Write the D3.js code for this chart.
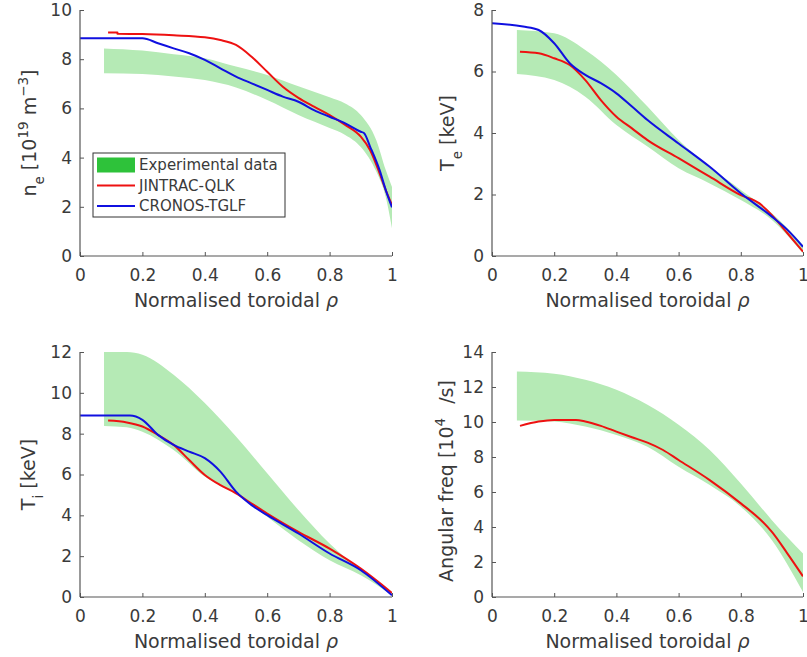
<!DOCTYPE html>
<html>
<head>
<meta charset="utf-8">
<script src="https://cdn.jsdelivr.net/npm/d3@7/dist/d3.min.js"></script>
<style>
  html, body { margin: 0; padding: 0; background: #fff; }
  svg { display: block; font-family: "DejaVu Sans", sans-serif; }
</style>
</head>
<body>
<svg id="chart" width="807" height="657"></svg>
<script>
// ---------- Data ----------
// Electron density n_e [1e19 m^-3]
const neBandRho   = [0.077, 0.2, 0.3, 0.4, 0.5, 0.6, 0.7, 0.8, 0.85, 0.9, 0.95, 0.98, 1.0];
const neBandUpper = [8.44, 8.35, 8.2, 8.04, 7.7, 7.36, 6.9, 6.45, 6.2, 5.73, 4.7, 3.5, 2.8];
const neBandLower = [7.43, 7.4, 7.3, 7.15, 6.85, 6.34, 5.73, 5.2, 4.92, 4.43, 3.42, 2.4, 1.13];
const neJintracRho = [0.09, 0.12, 0.12, 0.2, 0.3, 0.4, 0.45, 0.5, 0.55, 0.6, 0.65, 0.7, 0.75, 0.8, 0.85, 0.9, 0.93, 0.96, 0.98, 1.0];
const neJintracVal = [9.09, 9.09, 9.03, 9.02, 8.97, 8.89, 8.78, 8.58, 8.1, 7.49, 6.88, 6.43, 6.07, 5.73, 5.33, 4.85, 4.3, 3.37, 2.68, 2.07];
const neCronosRho = [0.0, 0.2, 0.25, 0.3, 0.35, 0.4, 0.45, 0.5, 0.55, 0.6, 0.65, 0.7, 0.75, 0.8, 0.85, 0.9, 0.91, 0.93, 0.96, 0.98, 1.0];
const neCronosVal = [8.85, 8.85, 8.65, 8.44, 8.24, 7.97, 7.63, 7.29, 7.02, 6.75, 6.48, 6.27, 5.93, 5.66, 5.39, 5.05, 5.0, 4.44, 3.5, 2.68, 1.98];

// Electron temperature T_e [keV]
const teBandRho   = [0.08, 0.2, 0.3, 0.4, 0.5, 0.6, 0.7, 0.8, 0.9, 1.0];
const teBandUpper = [7.35, 7.24, 6.7, 5.89, 4.86, 3.77, 2.9, 2.15, 1.39, 0.36];
const teBandLower = [5.92, 5.72, 5.18, 4.26, 3.56, 2.85, 2.36, 1.82, 1.17, 0.09];
const teJintracRho = [0.09, 0.15, 0.2, 0.25, 0.3, 0.35, 0.4, 0.45, 0.5, 0.6, 0.7, 0.8, 0.86, 0.9, 0.95, 1.0];
const teJintracVal = [6.64, 6.59, 6.43, 6.21, 5.72, 5.07, 4.53, 4.15, 3.77, 3.18, 2.58, 1.98, 1.71, 1.33, 0.74, 0.14];
const teCronosRho = [0.0, 0.1, 0.15, 0.2, 0.25, 0.3, 0.35, 0.4, 0.45, 0.5, 0.6, 0.7, 0.8, 0.9, 0.95, 1.0];
const teCronosVal = [7.57, 7.46, 7.35, 6.92, 6.27, 5.89, 5.62, 5.29, 4.86, 4.42, 3.66, 2.9, 2.04, 1.28, 0.85, 0.3];

// Ion temperature T_i [keV]
const tiBandRho   = [0.077, 0.15, 0.2, 0.3, 0.4, 0.5, 0.6, 0.7, 0.8, 0.9, 1.0];
const tiBandUpper = [12.0, 12.0, 11.87, 10.89, 9.5, 7.86, 6.06, 4.26, 2.62, 1.31, 0.16];
const tiBandLower = [8.38, 8.32, 8.1, 7.2, 5.9, 5.08, 3.93, 2.78, 1.8, 1.06, 0.08];
const tiJintracRho = [0.09, 0.15, 0.2, 0.25, 0.3, 0.35, 0.4, 0.45, 0.5, 0.55, 0.6, 0.7, 0.8, 0.9, 1.0];
const tiJintracVal = [8.64, 8.55, 8.35, 7.94, 7.45, 6.71, 5.98, 5.48, 5.08, 4.58, 4.09, 3.19, 2.37, 1.39, 0.2];
const tiCronosRho = [0.0, 0.16, 0.2, 0.25, 0.3, 0.35, 0.4, 0.45, 0.5, 0.55, 0.6, 0.7, 0.8, 0.9, 1.0];
const tiCronosVal = [8.89, 8.89, 8.68, 7.94, 7.45, 7.12, 6.8, 6.14, 5.16, 4.5, 4.01, 3.11, 2.13, 1.31, 0.08];

// Angular frequency [1e4 /s]
const omBandRho   = [0.08, 0.2, 0.3, 0.4, 0.5, 0.6, 0.7, 0.8, 0.9, 1.0];
const omBandUpper = [12.89, 12.76, 12.41, 11.84, 10.98, 9.84, 8.4, 6.49, 4.39, 2.48];
const omBandLower = [10.08, 10.03, 9.74, 9.26, 8.59, 7.45, 6.4, 5.16, 3.25, 0.29];
const omJintracRho = [0.09, 0.15, 0.2, 0.27, 0.3, 0.35, 0.4, 0.45, 0.5, 0.55, 0.6, 0.7, 0.8, 0.87, 0.9, 0.95, 1.0];
const omJintracVal = [9.78, 10.03, 10.12, 10.12, 10.03, 9.78, 9.45, 9.13, 8.82, 8.4, 7.83, 6.68, 5.35, 4.3, 3.72, 2.48, 1.18];

// Axis ticks and labels
const xTicks = [0, 0.2, 0.4, 0.6, 0.8, 1];
const xTickLabels = ["0", "0.2", "0.4", "0.6", "0.8", "1"];
const neTicks = [0, 2, 4, 6, 8, 10];
const teTicks = [0, 2, 4, 6, 8];
const tiTicks = [0, 2, 4, 6, 8, 10, 12];
const omTicks = [0, 2, 4, 6, 8, 10, 12, 14];
const legendLabels = ["Experimental data", "JINTRAC-QLK", "CRONOS-TGLF"];

// ---------- Styles ----------
const BAND = "#b5eab5";
const BAND_LEG = "#2ec23a";
const RED = "#ee1111";
const BLUE = "#1010e0";
const AXIS = "#555";
const TEXT = "#3a3a3a";

const svg = d3.select("#chart");
const zip = (xs, ys) => xs.map((x, i) => [x, ys[i]]);

function panel(cfg) {
  const x = d3.scaleLinear().domain([0, 1]).range([cfg.x0, cfg.x1]);
  const y = d3.scaleLinear().domain([0, cfg.ymax]).range([cfg.y1, cfg.y0]);
  const g = svg.append("g");
  const clipId = "clip" + cfg.id;
  svg.append("clipPath").attr("id", clipId).append("rect")
    .attr("x", cfg.x0).attr("y", cfg.y0).attr("width", cfg.x1 - cfg.x0).attr("height", cfg.y1 - cfg.y0);
  const plot = g.append("g").attr("clip-path", `url(#${clipId})`);

  const band = cfg.bandRho.map((r, i) => ({r, lo: cfg.bandLo[i], hi: cfg.bandHi[i]}));
  plot.append("path").datum(band)
    .attr("fill", BAND).attr("stroke", "none")
    .attr("d", d3.area().x(d => x(d.r)).y0(d => y(d.lo)).y1(d => y(d.hi)).curve(d3.curveMonotoneX));

  const line = d3.line().x(d => x(d[0])).y(d => y(d[1])).curve(d3.curveMonotoneX);
  cfg.lines.forEach(l => {
    plot.append("path").datum(zip(l.rho, l.val))
      .attr("fill", "none").attr("stroke", l.color).attr("stroke-width", 2)
      .attr("stroke-linejoin", "round").attr("d", line);
  });

  // axes (MATLAB style, ticks inward, box off)
  const xAxis = d3.axisBottom(x).tickValues(xTicks).tickFormat((d, i) => xTickLabels[i]).tickSizeInner(-4).tickSizeOuter(0).tickPadding(13);
  const xg = g.append("g").attr("transform", `translate(0,${cfg.y1})`).call(xAxis);
  const yAxis = d3.axisLeft(y).tickValues(cfg.yTicks).tickFormat(d3.format("d")).tickSizeInner(-4).tickSizeOuter(0).tickPadding(8);
  const yg = g.append("g").attr("transform", `translate(${cfg.x0},0)`).call(yAxis);
  [xg, yg].forEach(a => {
    a.select(".domain").attr("stroke", AXIS).attr("stroke-width", 1.2);
    a.selectAll(".tick line").attr("stroke", AXIS);
    a.selectAll(".tick text").attr("fill", TEXT).style("font-size", "17px").style("font-family", "DejaVu Sans, sans-serif");
  });
  xg.select(".domain").attr("d", `M${cfg.x0},0H${cfg.x1}`);
  yg.select(".domain").attr("d", `M0,${cfg.y1}V${cfg.y0}`);

  // x label
  const xl = g.append("text").attr("x", (cfg.x0 + cfg.x1) / 2).attr("y", cfg.y1 + 50.5)
    .attr("text-anchor", "middle").attr("fill", TEXT).style("font-size", "19px");
  xl.append("tspan").text("Normalised toroidal ");
  xl.append("tspan").attr("font-style", "italic").text("ρ");

  // y label
  const yl = g.append("text")
    .attr("transform", `translate(${cfg.ylx},${cfg.ylc}) rotate(-90)`)
    .attr("text-anchor", "middle").attr("fill", TEXT).style("font-size", "19px");
  cfg.ylabel(yl);
  return {x, y, g};
}

function sup(t, s) { t.append("tspan").attr("baseline-shift", "super").style("font-size", "13.5px").text(s); }
function sub(t, s) { t.append("tspan").attr("baseline-shift", "sub").style("font-size", "13.5px").text(s); }

panel({
  id: 1, x0: 80, x1: 392, y0: 10, y1: 256, ymax: 10, yTicks: neTicks, ylx: 36, ylc: 133,
  bandRho: neBandRho, bandLo: neBandLower, bandHi: neBandUpper,
  lines: [{rho: neJintracRho, val: neJintracVal, color: RED}, {rho: neCronosRho, val: neCronosVal, color: BLUE}],
  ylabel: t => { t.append("tspan").text("n"); sub(t, "e"); t.append("tspan").text(" [10"); sup(t, "19"); t.append("tspan").text(" m"); sup(t, "−3"); t.append("tspan").text("]"); }
});
panel({
  id: 2, x0: 492, x1: 803, y0: 10, y1: 256, ymax: 8, yTicks: teTicks, ylx: 454, ylc: 133,
  bandRho: teBandRho, bandLo: teBandLower, bandHi: teBandUpper,
  lines: [{rho: teJintracRho, val: teJintracVal, color: RED}, {rho: teCronosRho, val: teCronosVal, color: BLUE}],
  ylabel: t => { t.append("tspan").text("T"); sub(t, "e"); t.append("tspan").text(" [keV]"); }
});
panel({
  id: 3, x0: 80, x1: 392, y0: 352, y1: 597, ymax: 12, yTicks: tiTicks, ylx: 35, ylc: 474.5,
  bandRho: tiBandRho, bandLo: tiBandLower, bandHi: tiBandUpper,
  lines: [{rho: tiJintracRho, val: tiJintracVal, color: RED}, {rho: tiCronosRho, val: tiCronosVal, color: BLUE}],
  ylabel: t => { t.append("tspan").text("T"); sub(t, "i"); t.append("tspan").text(" [keV]"); }
});
panel({
  id: 4, x0: 492, x1: 803, y0: 352, y1: 597, ymax: 14, yTicks: omTicks, ylx: 453, ylc: 481,
  bandRho: omBandRho, bandLo: omBandLower, bandHi: omBandUpper,
  lines: [{rho: omJintracRho, val: omJintracVal, color: RED}],
  ylabel: t => { t.append("tspan").text("Angular freq [10"); sup(t, "4"); t.append("tspan").attr("dx", 8).text(" /s]"); }
});

// Legend (top-left panel)
const leg = svg.append("g");
leg.append("rect").attr("x", 93).attr("y", 153).attr("width", 192).attr("height", 64)
  .attr("fill", "#fff").attr("stroke", "#333").attr("stroke-width", 1);
const legColors = [BAND_LEG, RED, BLUE];
legendLabels.forEach((lab, i) => {
  const cy = 165 + i * 20.5;
  if (i === 0) {
    leg.append("rect").attr("x", 97).attr("y", cy - 7.5).attr("width", 38).attr("height", 15).attr("fill", legColors[i]);
  } else {
    leg.append("line").attr("x1", 97).attr("x2", 135).attr("y1", cy).attr("y2", cy)
      .attr("stroke", legColors[i]).attr("stroke-width", 2);
  }
  leg.append("text").attr("x", 139).attr("y", cy).attr("dy", "0.35em")
    .attr("fill", TEXT).style("font-size", "15px").text(lab);
});
</script>
</body>
</html>
